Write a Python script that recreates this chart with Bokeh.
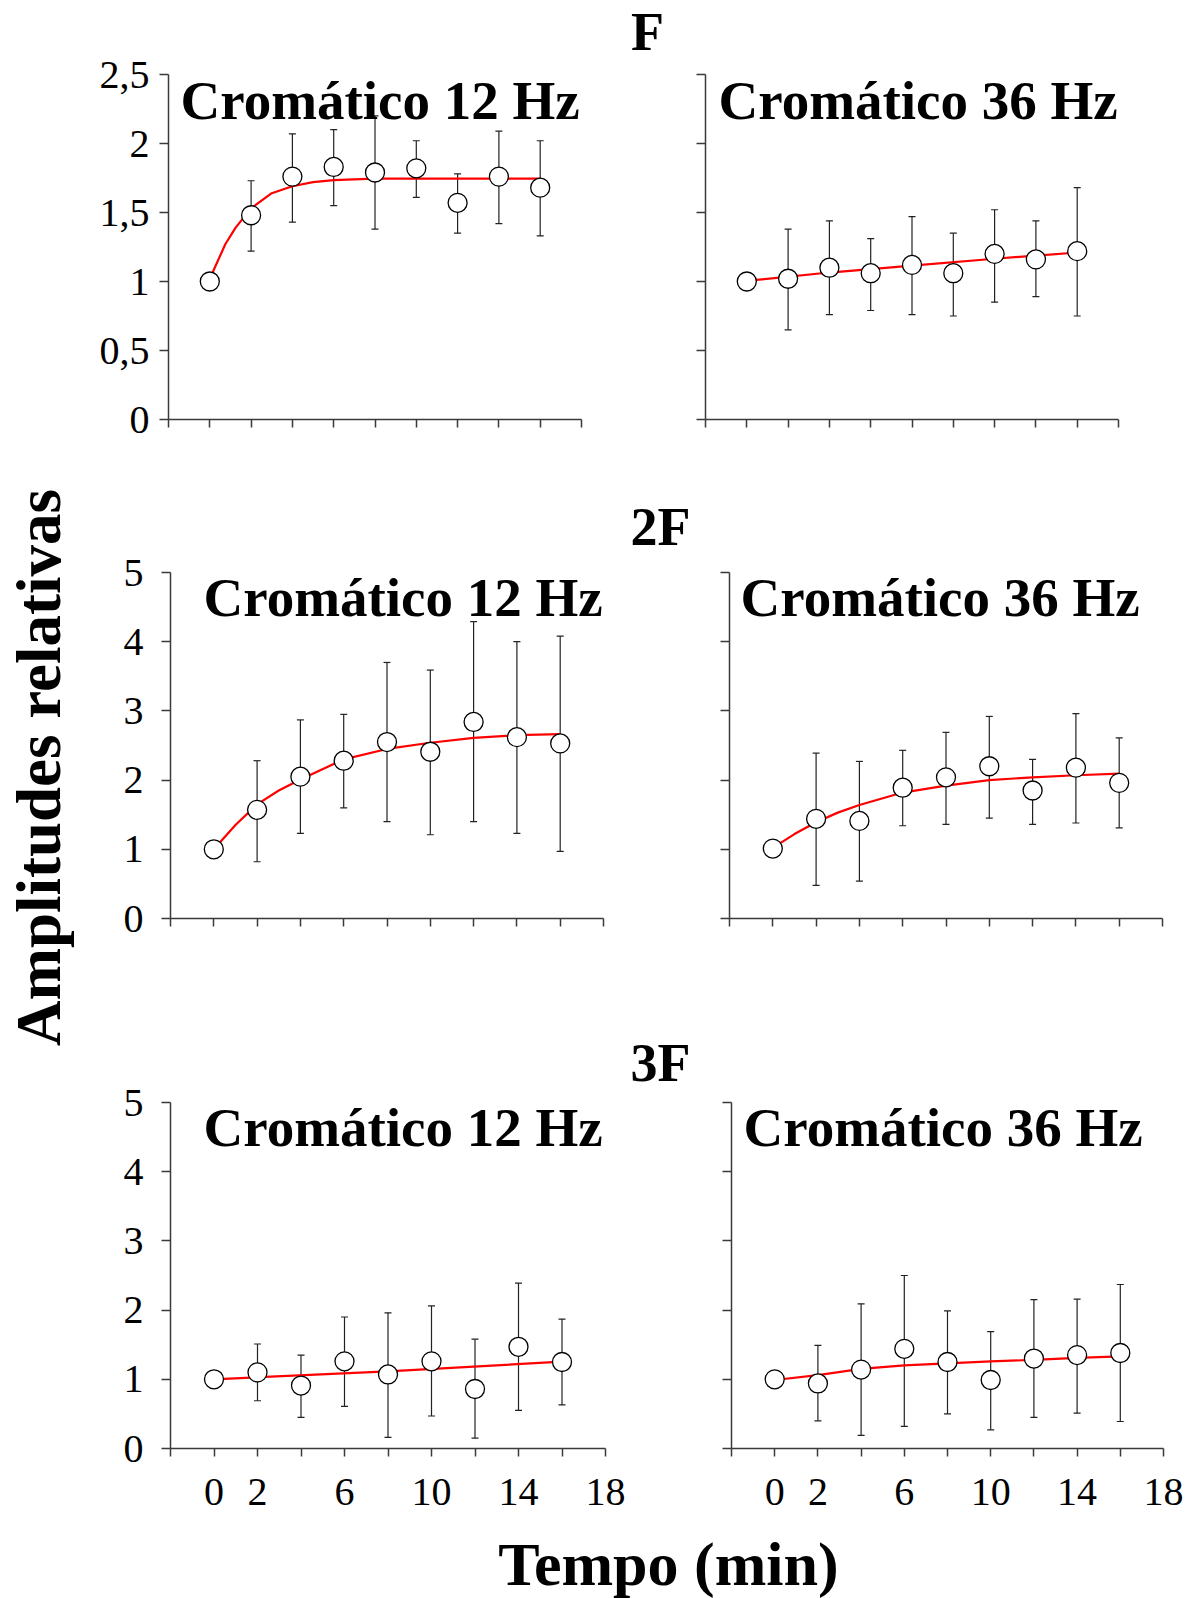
import math
from bokeh.plotting import figure
from bokeh.models import (ColumnDataSource, Whisker, TeeHead, Range1d, FixedTicker,
                          CustomJSTickFormatter, Label)
from bokeh.layouts import row, column
from bokeh.embed import file_html
from bokeh.resources import INLINE
from bokeh.core.validation import silence
from bokeh.core.validation.warnings import MISSING_RENDERERS

silence(MISSING_RENDERERS, True)

# ---------------- data ----------------
times = [0, 2, 4, 6, 8, 10, 12, 14, 16]
err_times = [2, 4, 6, 8, 10, 12, 14, 16]
x_ticks = [-2, 0, 2, 4, 6, 8, 10, 12, 14, 16, 18]
x_tick_labels = ["", "0", "2", "", "6", "", "10", "", "14", "", "18"]
y_ticks_f = [0, 0.5, 1, 1.5, 2, 2.5]
y_ticks_h = [0, 1, 2, 3, 4, 5]

row_titles = ["F", "2F", "3F"]
panel_titles = ["Cromático 12 Hz", "Cromático 36 Hz"]
y_title = "Amplitudes relativas"
x_title = "Tempo (min)"

# F
f12_mean = [1.00, 1.48, 1.76, 1.83, 1.79, 1.82, 1.57, 1.76, 1.68]
f12_upper = [1.73, 2.07, 2.10, 2.20, 2.02, 1.78, 2.09, 2.02]
f12_lower = [1.22, 1.43, 1.55, 1.38, 1.61, 1.35, 1.42, 1.33]
f12_fit_t = [0, 0.75, 1.25, 2, 3, 4, 5, 6, 8, 16]
f12_fit = [1.02, 1.27, 1.39, 1.53, 1.64, 1.69, 1.72, 1.735, 1.745, 1.745]

f36_mean = [1.00, 1.02, 1.10, 1.06, 1.12, 1.06, 1.20, 1.16, 1.22]
f36_upper = [1.38, 1.44, 1.31, 1.47, 1.35, 1.52, 1.44, 1.68]
f36_lower = [0.65, 0.76, 0.79, 0.76, 0.75, 0.85, 0.89, 0.75]
f36_fit_t = [0, 4, 8, 12, 16]
f36_fit = [1.005, 1.065, 1.115, 1.165, 1.21]

# 2F
h2_12_mean = [1.00, 1.57, 2.05, 2.28, 2.55, 2.41, 2.84, 2.62, 2.53]
h2_12_upper = [2.28, 2.87, 2.95, 3.70, 3.59, 4.29, 4.00, 4.08]
h2_12_lower = [0.82, 1.23, 1.60, 1.40, 1.21, 1.40, 1.23, 0.97]
h2_12_fit_t = [0, 1, 2, 3, 4, 6, 8, 10, 12, 14, 16]
h2_12_fit = [1.00, 1.35, 1.65, 1.85, 2.01, 2.30, 2.45, 2.54, 2.61, 2.65, 2.665]

h2_36_mean = [1.01, 1.44, 1.41, 1.89, 2.04, 2.20, 1.85, 2.18, 1.96]
h2_36_upper = [2.39, 2.27, 2.43, 2.69, 2.92, 2.30, 2.96, 2.61]
h2_36_lower = [0.48, 0.54, 1.34, 1.36, 1.45, 1.36, 1.38, 1.31]
h2_36_fit_t = [0, 1, 2, 3, 4, 6, 8, 10, 12, 14, 16]
h2_36_fit = [1.02, 1.22, 1.39, 1.53, 1.64, 1.82, 1.92, 2.00, 2.04, 2.07, 2.095]

# 3F
h3_12_mean = [1.00, 1.10, 0.91, 1.26, 1.07, 1.26, 0.86, 1.47, 1.25]
h3_12_upper = [1.51, 1.35, 1.90, 1.96, 2.06, 1.58, 2.39, 1.87]
h3_12_lower = [0.69, 0.45, 0.61, 0.16, 0.47, 0.15, 0.55, 0.63]
h3_12_fit_t = [0, 8, 16]
h3_12_fit = [1.00, 1.115, 1.255]

h3_36_mean = [1.00, 0.94, 1.14, 1.44, 1.25, 0.99, 1.30, 1.35, 1.38]
h3_36_upper = [1.49, 2.09, 2.50, 1.99, 1.69, 2.15, 2.16, 2.37]
h3_36_lower = [0.40, 0.19, 0.32, 0.50, 0.27, 0.45, 0.51, 0.39]
h3_36_fit_t = [0, 2, 4, 6, 8, 10, 12, 14, 16]
h3_36_fit = [0.99, 1.06, 1.15, 1.20, 1.23, 1.26, 1.28, 1.31, 1.33]

# ---------------- style ----------------
FONT = "Liberation Serif"
AXIS_COLOR = "#3a3a3a"
TICK_FONT = "40px"
SHIFT_EM = 0.33  # baseline correction of Label rendering, in em

EMPTY = CustomJSTickFormatter(code="return '';")
COMMA = CustomJSTickFormatter(code="return tick.toString().replace('.', ',');")
XLAB = CustomJSTickFormatter(args=dict(xt=x_ticks, xl=x_tick_labels),
                             code="const i = xt.indexOf(tick); return i >= 0 ? xl[i] : '';")


def bare(fig):
    fig.xgrid.visible = False
    fig.ygrid.visible = False
    fig.outline_line_color = None
    fig.background_fill_color = "white"
    fig.border_fill_color = "white"


def panel(w, h, left, right, bottom, ymax, data_h, yticks, show_y, show_x, ystand,
          page_x0, page_y0, title, title_px, mean, upper, lower, fit_t, fit_v):
    """Frame starts at the top of the figure; the y axis is bounded to 0..ymax,
    which spans data_h pixels above the x axis."""
    fh = h - bottom
    ytop = ymax * fh / data_h
    p = figure(width=w, height=h, x_range=Range1d(-2, 18), y_range=Range1d(0, ytop),
               output_backend="svg", toolbar_location=None,
               min_border_left=left, min_border_right=right,
               min_border_top=0, min_border_bottom=bottom)
    bare(p)

    for ax in (p.xaxis[0], p.yaxis[0]):
        ax.axis_line_color = AXIS_COLOR
        ax.axis_line_width = 1.5
        ax.major_tick_line_color = AXIS_COLOR
        ax.major_tick_line_width = 1.5
        ax.minor_tick_line_color = None
        ax.major_tick_in = 0
        ax.major_label_text_font = FONT
        ax.major_label_text_color = "black"

    xa = p.xaxis[0]
    xa.ticker = FixedTicker(ticks=x_ticks)
    xa.major_tick_out = 8
    if show_x:
        xa.formatter = XLAB
        xa.major_label_text_font_size = TICK_FONT
        xa.major_label_standoff = 22
    else:
        xa.formatter = EMPTY
        xa.major_label_text_font_size = "8px"
        xa.major_label_standoff = 0

    ya = p.yaxis[0]
    ya.ticker = FixedTicker(ticks=yticks)
    ya.bounds = (0, ymax)
    ya.major_tick_out = 9
    if show_y:
        ya.formatter = COMMA
        ya.major_label_text_font_size = TICK_FONT
        ya.major_label_standoff = ystand
    else:
        ya.formatter = EMPTY
        ya.major_label_text_font_size = "8px"
        ya.major_label_standoff = 0

    esrc = ColumnDataSource(dict(t=err_times, hi=upper, lo=lower))
    p.add_layout(Whisker(source=esrc, base="t", upper="hi", lower="lo",
                         line_color="#222222", line_width=1.2,
                         upper_head=TeeHead(size=7, line_color="#222222", line_width=1.2),
                         lower_head=TeeHead(size=7, line_color="#222222", line_width=1.2)))
    p.line(fit_t, fit_v, line_color="#ff0000", line_width=2.2)
    p.scatter(times, mean, size=19, fill_color="white", line_color="black", line_width=1.3)

    fx0 = page_x0 + left
    fw = w - left - right
    px, py = title_px
    py = py - SHIFT_EM * 55
    tx = -2 + (px - fx0) / fw * 20.0
    ty = (page_y0 + fh - py) / fh * ytop
    p.add_layout(Label(x=tx, y=ty, x_units="data", y_units="data", text=title,
                       text_font=FONT, text_font_style="bold", text_font_size="55px",
                       text_color="black", text_align="left", text_baseline="alphabetic"))
    return p


def mid(w, h, bottom, page_x0, page_y0, text, cx, base):
    """Axis-less figure between two panels, same frame height as its neighbours."""
    fh = h - bottom
    s = figure(width=w, height=h, x_range=Range1d(0, w), y_range=Range1d(0, fh),
               output_backend="svg", toolbar_location=None,
               min_border_left=0, min_border_right=0, min_border_top=0,
               min_border_bottom=bottom, x_axis_location=None, y_axis_location=None)
    bare(s)
    y = page_y0 + fh - (base - SHIFT_EM * 54)
    s.add_layout(Label(x=cx - page_x0, y=y, x_units="data", y_units="data", text=text,
                       text_font=FONT, text_font_style="bold", text_font_size="54px",
                       text_color="black", text_align="center", text_baseline="alphabetic"))
    return s


def strip(w, h, text, cx, by, size, angle=0.0):
    s = figure(width=w, height=h, x_range=Range1d(0, w), y_range=Range1d(0, h),
               output_backend="svg", toolbar_location=None, min_border=0,
               x_axis_location=None, y_axis_location=None)
    bare(s)
    s.add_layout(Label(x=cx, y=by, x_units="data", y_units="data", text=text, angle=angle,
                       text_font=FONT, text_font_style="bold", text_font_size=size,
                       text_color="black", text_align="center", text_baseline="alphabetic"))
    return s


# row 1 (F): page y 0..470, axis top at 74, x axis at 419
p1L = panel(529, 470, 93, 23, 51, 2.5, 345, y_ticks_f, True, False, 10, 75, 0,
            panel_titles[0], (180, 118), f12_mean, f12_upper, f12_lower, f12_fit_t, f12_fit)
m1 = mid(86, 470, 51, 604, 0, row_titles[0], 647, 49)
p1R = panel(510, 470, 15, 82, 51, 2.5, 345, y_ticks_f, False, False, 0, 690, 0,
            panel_titles[1], (718, 118), f36_mean, f36_upper, f36_lower, f36_fit_t, f36_fit)
# row 2 (2F): page y 470..1000, axis top at 572, x axis at 918
p2L = panel(545, 530, 95, 17, 82, 5, 346, y_ticks_h, True, False, 18, 75, 470,
            panel_titles[0], (203, 615), h2_12_mean, h2_12_upper, h2_12_lower,
            h2_12_fit_t, h2_12_fit)
m2 = mid(80, 530, 82, 620, 470, row_titles[1], 660, 544)
p2R = panel(500, 530, 29, 38, 82, 5, 346, y_ticks_h, False, False, 0, 700, 470,
            panel_titles[1], (740, 615), h2_36_mean, h2_36_upper, h2_36_lower,
            h2_36_fit_t, h2_36_fit)
# row 3 (3F): page y 1000..1528, axis top at 1102, x axis at 1448
p3L = panel(552, 528, 95, 22, 80, 5, 346, y_ticks_h, True, True, 18, 75, 1000,
            panel_titles[0], (203, 1145), h3_12_mean, h3_12_upper, h3_12_lower,
            h3_12_fit_t, h3_12_fit)
m3 = mid(66, 528, 80, 627, 1000, row_titles[2], 660, 1080)
p3R = panel(507, 528, 38, 37, 80, 5, 346, y_ticks_h, False, True, 0, 693, 1000,
            panel_titles[1], (743, 1145), h3_36_mean, h3_36_upper, h3_36_lower,
            h3_36_fit_t, h3_36_fit)

# x title strip: page y 1528..1598 ; visible baseline at page y 1584
sX = strip(1125, 70, x_title, 668 - 75, 1598 - 1584 + SHIFT_EM * 62, "62px")
# y title strip: page x 0..75 ; visible baseline at page x 59, centre page y 767
sY = strip(75, 1598, y_title, 59 - SHIFT_EM * 63, 1598 - 767, "63px", angle=math.pi / 2)

layout = row(sY, column(row(p1L, m1, p1R), row(p2L, m2, p2R), row(p3L, m3, p3R), sX,
                        spacing=0), spacing=0)

open("out.html", "w").write(file_html(layout, INLINE))
